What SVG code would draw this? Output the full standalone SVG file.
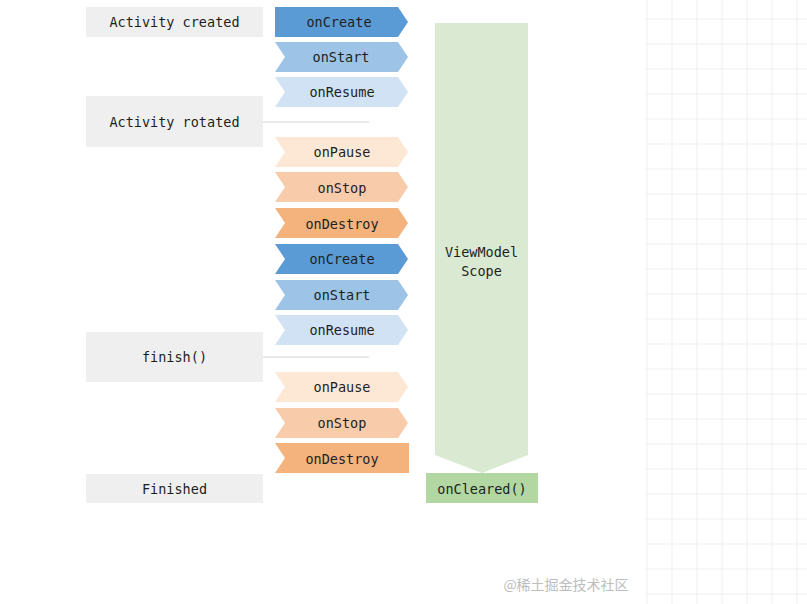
<svg xmlns="http://www.w3.org/2000/svg" width="807" height="604" viewBox="0 0 807 604">
<defs>
<style>
.t{font-family:"DejaVu Sans Mono","Liberation Mono",monospace;font-size:13.5px;fill:#1e1e1e;text-anchor:middle;dominant-baseline:central}
.box{fill:#efefef}
.grid{stroke:#efefef;stroke-width:1}
.conn{stroke:#d4d4d4;stroke-width:1;fill:none}
.c1{fill:#5b9bd5}.c2{fill:#9dc3e6}.c3{fill:#d0e2f3}
.o1{fill:#fde8d6}.o2{fill:#f8cbab}.o3{fill:#f4b27d}
</style>
</defs>
<rect width="807" height="604" fill="#ffffff"/>
<g id="grid">
<path class="grid" d="M647 0V604M672 0V604M697 0V604M722 0V604M747 0V604M772 0V604M797 0V604M645 19H807M645 44H807M645 69H807M645 94H807M645 119H807M645 144H807M645 169H807M645 194H807M645 219H807M645 244H807M645 269H807M645 294H807M645 319H807M645 344H807M645 369H807M645 394H807M645 419H807M645 444H807M645 469H807M645 494H807M645 519H807M645 544H807M645 569H807M645 594H807"/>
</g>
<g id="connectors">
<line class="conn" x1="263" y1="122" x2="369" y2="122"/>
<line class="conn" x1="263" y1="357" x2="369" y2="357"/>
</g>
<g id="activity-created"><rect class="box" x="86" y="7" width="177" height="30"/><text class="t" x="174.5" y="22">Activity created</text></g>
<g id="activity-rotated"><rect class="box" x="86" y="96" width="177" height="51"/><text class="t" x="174.5" y="122">Activity rotated</text></g>
<g id="finish"><rect class="box" x="86" y="332" width="177" height="50"/><text class="t" x="174.5" y="357">finish()</text></g>
<g id="finished"><rect class="box" x="86" y="474" width="177" height="29"/><text class="t" x="174.5" y="489">Finished</text></g>

<g id="onCreate1"><polygon class="c1" points="275,7 398,7 408,22 398,37 275,37"/><text class="t" x="339" y="22">onCreate</text></g>
<g id="onStart1"><polygon class="c2" points="275,42 398,42 408,57 398,72 275,72 285,57"/><text class="t" x="341" y="57">onStart</text></g>
<g id="onResume1"><polygon class="c3" points="275,77 398,77 408,92 398,107 275,107 285,92"/><text class="t" x="342" y="92">onResume</text></g>
<g id="onPause1"><polygon class="o1" points="275,137 398,137 408,152 398,167 275,167 285,152"/><text class="t" x="342" y="152">onPause</text></g>
<g id="onStop1"><polygon class="o2" points="275,172 398,172 408,187 398,202 275,202 285,187"/><text class="t" x="342" y="188">onStop</text></g>
<g id="onDestroy1"><polygon class="o3" points="275,208 398,208 408,223 398,238 275,238 285,223"/><text class="t" x="342" y="224">onDestroy</text></g>
<g id="onCreate2"><polygon class="c1" points="275,244 398,244 408,259 398,274 275,274 285,259"/><text class="t" x="342" y="259">onCreate</text></g>
<g id="onStart2"><polygon class="c2" points="275,280 398,280 408,295 398,310 275,310 285,295"/><text class="t" x="342" y="295">onStart</text></g>
<g id="onResume2"><polygon class="c3" points="275,315 398,315 408,330 398,345 275,345 285,330"/><text class="t" x="342" y="330">onResume</text></g>
<g id="onPause2"><polygon class="o1" points="275,372 398,372 408,387 398,402 275,402 285,387"/><text class="t" x="342" y="387">onPause</text></g>
<g id="onStop2"><polygon class="o2" points="275,408 398,408 408,423 398,438 275,438 285,423"/><text class="t" x="342" y="423">onStop</text></g>
<g id="onDestroy2"><polygon class="o3" points="275,443 409,443 409,473 275,473 285,458"/><text class="t" x="342" y="459">onDestroy</text></g>

<g id="viewmodel-scope"><polygon fill="#d9e9d2" points="435,23 528,23 528,455 482,473 435,455"/><text class="t" x="481.5" y="252">ViewModel</text><text class="t" x="481.5" y="271">Scope</text></g>
<g id="onCleared"><rect fill="#b2d7a2" x="426" y="473" width="112" height="30"/><text class="t" x="482" y="489">onCleared()</text></g>

<text x="566" y="584" font-family="'Noto Sans CJK SC',sans-serif" font-size="14" fill="#bdbdbd" text-anchor="middle" dominant-baseline="central">@稀土掘金技术社区</text>
</svg>
